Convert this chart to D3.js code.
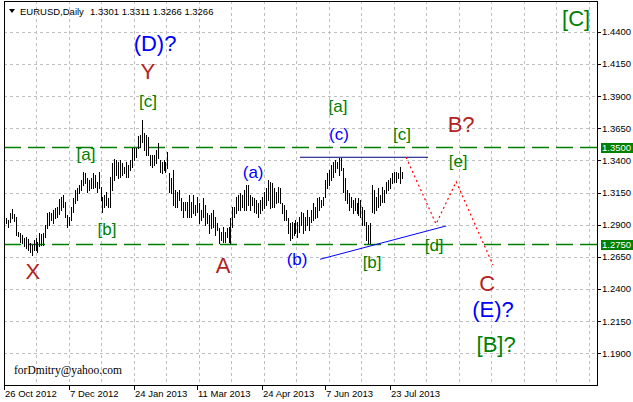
<!DOCTYPE html>
<html><head><meta charset="utf-8">
<script src="https://cdn.jsdelivr.net/npm/d3@7"></script>
<style>html,body{margin:0;padding:0;background:#fff;}svg{display:block;}</style>
</head><body>
<script>
// ---------------- DATA ----------------
const symbol = "EURUSD,Daily";
const lastOHLC = [1.3301, 1.3311, 1.3266, 1.3266];
const highs = [
1.2949,1.2936,1.2988,1.3019,1.2982,1.2962,1.2845,1.2837,1.2819,1.2793,
1.2806,1.2788,1.2754,1.2741,1.2780,1.2793,1.2767,1.2832,1.2827,1.2832,
1.2897,1.2988,1.3000,1.2988,1.3014,1.3026,1.3039,1.3096,1.3117,1.3130,
1.3078,1.2975,1.2962,1.3039,1.3104,1.3169,1.3182,1.3208,1.3247,1.3311,
1.3299,1.3260,1.3247,1.3260,1.3299,1.3286,1.3234,
1.3311,1.3195,1.3117,1.3130,1.3156,1.3104,1.3273,1.3376,1.3407,1.3402,
1.3389,1.3402,1.3376,1.3350,1.3389,1.3363,1.3402,1.3493,1.3493,1.3493,
1.3589,1.3597,1.3713,1.3610,1.3597,1.3584,1.3441,1.3441,1.3441,1.3480,
1.3532,1.3402,1.3389,1.3402,1.3389,1.3467,1.3299,1.3260,1.3324,1.3169,
1.3156,1.3169,1.3104,1.3078,1.3078,1.3078,1.3130,1.3078,1.3130,1.3052,1.3117,
1.3065,1.3014,1.3104,1.3052,1.2988,1.2975,1.2988,1.3014,1.2962,1.2910,
1.2871,1.2845,1.2884,1.2845,1.2871,1.2884,1.2949,1.3039,1.3039,1.3117,
1.3130,1.3143,1.3130,1.3169,1.3208,1.3208,1.3130,1.3117,1.3104,1.3091,
1.3065,1.3091,1.3117,1.3156,1.3182,1.3247,1.3234,1.3221,1.3182,1.3156,
1.3195,1.3182,1.3065,1.3052,1.3014,1.2949,1.2910,1.2923,1.2910,1.2936,1.2923,1.2962,
1.3000,1.2988,1.2962,1.3014,1.2962,1.3014,1.3065,1.3039,1.3104,1.3117,
1.3091,1.3117,1.3247,1.3299,1.3324,1.3363,1.3389,1.3402,1.3389,1.3415,
1.3420,1.3337,1.3260,1.3169,1.3143,1.3117,1.3091,1.3104,1.3065,1.3104,
1.3091,1.3039,1.3014,1.2923,1.2897,1.2910,1.3208,1.3169,1.3117,1.3182,
1.3130,1.3195,1.3169,1.3234,1.3247,1.3260,1.3299,1.3311,1.3311,1.3299,1.3350,1.3311
];
const lows = [
1.2910,1.2884,1.2923,1.2949,1.2928,1.2819,1.2811,1.2767,1.2759,1.2734,
1.2715,1.2702,1.2689,1.2664,1.2702,1.2702,1.2689,1.2734,1.2741,1.2741,
1.2806,1.2871,1.2897,1.2936,1.2910,1.2949,1.2962,1.2982,1.3014,1.3039,
1.2962,1.2884,1.2897,1.2936,1.3000,1.3065,1.3091,1.3143,1.3169,1.3208,
1.3221,1.3156,1.3169,1.3182,1.3182,1.3195,1.3156,
1.3182,1.3091,1.3000,1.3039,1.3052,1.3039,1.3039,1.3169,1.3247,1.3286,
1.3260,1.3273,1.3286,1.3299,1.3273,1.3273,1.3324,1.3350,1.3402,1.3428,
1.3493,1.3506,1.3545,1.3480,1.3441,1.3441,1.3363,1.3350,1.3363,1.3376,
1.3415,1.3311,1.3299,1.3324,1.3311,1.3337,1.3156,1.3143,1.3052,1.3039,
1.3039,1.3091,1.3014,1.2962,1.3014,1.2962,1.2962,1.2962,1.2988,1.2975,1.3000,
1.2910,1.2936,1.2962,1.2897,1.2910,1.2832,1.2871,1.2884,1.2819,1.2858,
1.2754,1.2780,1.2767,1.2767,1.2806,1.2767,1.2754,1.2884,1.2962,1.2988,
1.3014,1.3014,1.3039,1.3014,1.3014,1.3052,1.3014,1.3052,1.3000,1.2988,
1.2962,1.2988,1.3014,1.3026,1.3052,1.3091,1.3026,1.3039,1.3039,1.3065,
1.3078,1.3065,1.2988,1.2936,1.2936,1.2832,1.2780,1.2793,1.2819,1.2832,1.2806,1.2845,
1.2897,1.2832,1.2858,1.2897,1.2858,1.2923,1.2936,1.2949,1.2962,1.3014,
1.3039,1.3052,1.3117,1.3182,1.3208,1.3247,1.3273,1.3311,1.3337,1.3286,
1.3324,1.3156,1.3091,1.3065,1.3014,1.3039,1.2988,1.3014,1.2988,1.2975,
1.2962,1.2897,1.2897,1.2780,1.2754,1.2754,1.3000,1.2988,1.3014,1.3039,
1.3052,1.3078,1.3078,1.3143,1.3169,1.3182,1.3221,1.3234,1.3234,1.3260,1.3221,1.3266
];
const dateLabels = ["26 Oct 2012","7 Dec 2012","24 Jan 2013","11 Mar 2013","24 Apr 2013","7 Jun 2013","23 Jul 2013"];
const dateBarIdx = [-1, 32, 65, 97, 130, 162, 195];
const priceTicks = [1.44, 1.415, 1.39, 1.365, 1.34, 1.315, 1.29, 1.265, 1.24, 1.215, 1.19];
const levels = [1.35, 1.275];
const cLine = [[149.3, 1.3424], [214.3, 1.3424]];
const trendLine = [[159.5, 1.2631], [223.5, 1.2890]];
const projection = [[203.2, 1.3424], [218.4, 1.2905], [228.6, 1.3234], [247.3, 1.2586]];
// wave labels: text, kind, bar index, price
const waveText  = ["[C]","(D)?","Y","[c]","[a]","[b]","X","A","(a)","(b)","(c)","[a]","[b]","[c]","B?","[e]","[d]","C","(E)?","[B]?"];
const waveKind  = ["gB","bB","rB","gS","gS","gS","rB","rB","bS","bS","bS","gS","gS","gS","rB","gS","gS","rB","bB","gB"];
const waveIdx   = [289.5,75.7,72.1,72.1,40.6,51.3,13.7,110.2,125.5,147.8,169.1,168.6,185.9,201.1,231.1,229.6,217.4,244.3,247.3,248.9];
const wavePrice = [1.4499,1.4312,1.4087,1.3857,1.3449,1.2866,1.2532,1.2579,1.3309,1.2633,1.3601,1.3822,1.2606,1.3597,1.3679,1.3391,1.2738,1.2439,1.2237,1.1972];
const watermark = "forDmitry@yahoo.com";

// ---------------- LAYOUT ----------------
const W = 633, H = 402;
const L = 4, T = 1, R = 597, B = 385;
const x = d3.scaleLinear().domain([-1, 195]).range([4, 390]);
const y = d3.scaleLinear().domain([1.19, 1.44]).range([353.3, 31.7]);
const fmt = d3.format(".4f");
const uiFont = "'Liberation Sans', Arial, sans-serif";
const styleOf = {
  gB: {c: "#008000", s: 22}, gS: {c: "#008000", s: 17},
  bB: {c: "#0000ff", s: 22}, bS: {c: "#0000ff", s: 17},
  rB: {c: "#b22222", s: 22}
};

const svg = d3.select("body").append("svg").attr("width", W).attr("height", H);
svg.append("rect").attr("width", W).attr("height", H).attr("fill", "#fff");
svg.append("clipPath").attr("id", "pc").append("rect")
  .attr("x", L).attr("y", T).attr("width", R - L).attr("height", B - T);
const plot = svg.append("g").attr("clip-path", "url(#pc)");

// grid
const step = (x(dateBarIdx[1]) - x(dateBarIdx[0])) / 2;
const gx = d3.range(1, 40).map(k => x(dateBarIdx[0]) + k * step).filter(v => v < R - 2);
plot.selectAll(".gx").data(gx).enter().append("line")
  .attr("x1", d => Math.round(d) + 0.5).attr("x2", d => Math.round(d) + 0.5)
  .attr("y1", T).attr("y2", B)
  .attr("stroke", "#c0c0c0").attr("stroke-dasharray", "3,3").attr("shape-rendering", "crispEdges");
plot.selectAll(".gy").data(priceTicks).enter().append("line")
  .attr("x1", L).attr("x2", R)
  .attr("y1", d => Math.round(y(d)) + 0.5).attr("y2", d => Math.round(y(d)) + 0.5)
  .attr("stroke", "#c0c0c0").attr("stroke-dasharray", "3,3").attr("shape-rendering", "crispEdges");

// level lines
plot.selectAll(".lv").data(levels).enter().append("line")
  .attr("x1", L).attr("x2", R)
  .attr("y1", d => Math.round(y(d)) + 0.5).attr("y2", d => Math.round(y(d)) + 0.5)
  .attr("stroke", "#008000").attr("stroke-width", 1.3).attr("stroke-dasharray", "17,7");

// bars
plot.selectAll(".bar").data(highs).enter().append("line")
  .attr("x1", (d, i) => Math.round(x(i)) + 0.5).attr("x2", (d, i) => Math.round(x(i)) + 0.5)
  .attr("y1", d => Math.round(y(d))).attr("y2", (d, i) => Math.round(y(lows[i])) + 1)
  .attr("stroke", "#000").attr("stroke-width", 1).attr("shape-rendering", "crispEdges");

const ln = d3.line().x(d => x(d[0])).y(d => y(d[1]));
plot.append("path").attr("d", ln(cLine)).attr("fill", "none").attr("stroke", "#000080").attr("stroke-width", 1);
plot.append("path").attr("d", ln(trendLine)).attr("fill", "none").attr("stroke", "#0000ff").attr("stroke-width", 1);
plot.append("path").attr("d", ln(projection)).attr("fill", "none").attr("stroke", "#ff0000")
  .attr("stroke-width", 1.2).attr("stroke-dasharray", "2,3");

// wave labels
plot.selectAll(".wl").data(waveText).enter().append("text")
  .attr("x", (d, i) => x(waveIdx[i])).attr("y", (d, i) => y(wavePrice[i]))
  .attr("text-anchor", "middle").attr("dominant-baseline", "central")
  .attr("font-family", uiFont)
  .attr("font-size", (d, i) => styleOf[waveKind[i]].s)
  .attr("fill", (d, i) => styleOf[waveKind[i]].c)
  .text(d => d);

// watermark
plot.append("text").attr("x", 14).attr("y", 374)
  .attr("font-family", "'Liberation Serif', 'Times New Roman', serif").attr("font-size", 11.5)
  .attr("fill", "#000").text(watermark);

// frame
svg.append("rect").attr("x", L + 0.5).attr("y", T + 0.5).attr("width", R - L).attr("height", B - T)
  .attr("fill", "none").attr("stroke", "#000").attr("shape-rendering", "crispEdges");

// right axis
const ra = svg.append("g");
ra.selectAll(".tk").data(priceTicks).enter().append("line")
  .attr("x1", R).attr("x2", R + 4)
  .attr("y1", d => Math.round(y(d)) + 0.5).attr("y2", d => Math.round(y(d)) + 0.5)
  .attr("stroke", "#000").attr("shape-rendering", "crispEdges");
ra.selectAll(".tl").data(priceTicks).enter().append("text")
  .attr("x", R + 5).attr("y", d => y(d)).attr("dominant-baseline", "central")
  .attr("font-family", uiFont).attr("font-size", 9.5).attr("fill", "#000")
  .text(d => fmt(d));
const lvG = ra.selectAll(".lvb").data(levels).enter().append("g");
lvG.append("rect").attr("x", R + 4).attr("y", d => Math.round(y(d)) - 4)
  .attr("width", W - R - 4).attr("height", 10).attr("fill", "#008000");
lvG.append("text").attr("x", R + 5).attr("y", d => y(d) + 0.5).attr("dominant-baseline", "central")
  .attr("font-family", uiFont).attr("font-size", 9.5).attr("fill", "#fff")
  .text(d => fmt(d));

// bottom axis
const ba = svg.append("g");
ba.selectAll(".dt").data(dateBarIdx).enter().append("line")
  .attr("x1", d => Math.round(x(d)) + 0.5).attr("x2", d => Math.round(x(d)) + 0.5)
  .attr("y1", B).attr("y2", B + 5)
  .attr("stroke", "#000").attr("shape-rendering", "crispEdges");
ba.selectAll(".dl").data(dateLabels).enter().append("text")
  .attr("x", (d, i) => x(dateBarIdx[i]) + 1).attr("y", 397)
  .attr("font-family", uiFont).attr("font-size", 9.5).attr("fill", "#000")
  .text(d => d);

// header
svg.append("path").attr("d", "M9,9 L15,9 L12,13 Z").attr("fill", "#000");
svg.append("text").attr("x", 20).attr("y", 14.5)
  .attr("font-family", uiFont).attr("font-size", 9.5).attr("fill", "#000")
  .text(symbol);
svg.append("text").attr("x", 90).attr("y", 14.5)
  .attr("font-family", uiFont).attr("font-size", 9.5).attr("fill", "#000")
  .attr("xml:space", "preserve")
  .text(lastOHLC.map(fmt).join(" "));
</script>
</body></html>
